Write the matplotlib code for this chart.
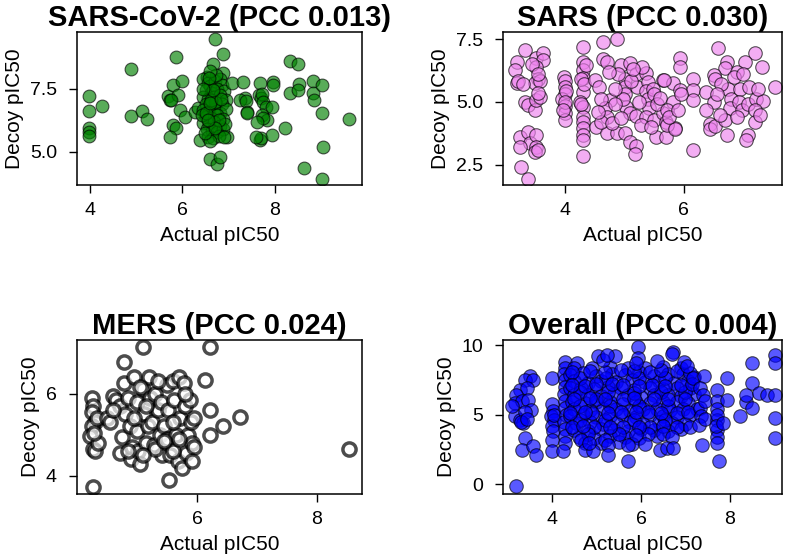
import matplotlib
matplotlib.use("Agg")
import matplotlib.pyplot as plt

plt.rcParams['font.family'] = ['Liberation Sans', 'DejaVu Sans']

# SARS-CoV-2 (actual, decoy) pairs
cov2_pts = [
    (3.99, 7.23), (3.99, 6.64), (3.99, 5.94), (3.99, 5.78), (3.99, 5.64), (4.25, 6.81),
    (4.88, 8.31), (4.88, 6.41), (5.13, 6.64), (5.23, 6.30),
    (5.69, 7.21), (5.74, 7.05), (5.85, 8.75), (5.80, 7.66), (5.90, 7.27), (5.76, 7.07),
    (5.95, 6.66), (5.80, 6.06), (5.85, 5.95), (5.73, 5.60), (6.00, 7.83), (6.05, 6.40),
    (6.27, 6.60), (6.34, 6.74), (6.38, 5.47),
    (6.70, 9.48), (6.88, 8.88), (6.65, 8.48), (6.88, 8.15), (6.52, 7.99), (6.59, 4.74),
    (6.74, 4.54), (6.80, 4.81), (6.97, 5.61),
    (6.45, 7.90), (6.55, 7.75), (6.60, 7.60), (6.70, 7.80), (6.80, 7.90), (6.85, 7.65),
    (6.50, 7.45), (6.62, 7.35), (6.75, 7.50), (6.90, 7.40), (6.45, 7.20), (6.55, 7.10),
    (6.68, 7.20), (6.80, 7.25), (6.95, 7.05), (6.50, 6.90), (6.60, 6.85), (6.72, 6.95),
    (6.85, 6.90), (6.45, 6.65), (6.58, 6.60), (6.70, 6.70), (6.82, 6.55), (6.93, 6.70),
    (6.50, 6.40), (6.62, 6.35), (6.75, 6.45), (6.88, 6.30), (6.45, 6.15), (6.57, 6.10),
    (6.68, 6.20), (6.80, 6.05), (6.52, 5.90), (6.63, 5.85), (6.75, 5.80), (6.87, 5.90),
    (6.55, 5.60), (6.65, 5.55), (6.78, 5.65), (6.60, 5.45), (6.72, 8.05), (6.60, 8.20),
    (6.42, 6.45), (6.48, 5.75), (6.92, 6.10), (6.70, 7.00), (6.58, 7.95),
    (6.62, 7.05), (6.50, 6.55), (6.78, 6.25), (6.70, 5.95), (6.60, 6.95), (6.83, 7.10),
    (6.55, 6.25), (6.90, 5.60), (6.65, 7.45), (6.45, 7.50),
    (7.06, 7.73), (7.31, 7.79), (7.36, 7.15), (7.24, 7.07), (7.37, 7.01), (7.39, 6.60),
    (7.39, 6.54), (7.68, 7.73), (7.65, 7.25), (7.70, 7.15), (7.72, 7.30), (7.75, 7.00),
    (7.80, 6.80), (7.72, 6.45), (7.82, 6.28), (7.75, 6.35), (7.68, 5.48), (7.70, 5.55),
    (7.93, 5.68), (7.93, 6.80), (7.96, 7.77), (7.95, 7.65), (8.22, 5.94), (8.32, 8.60),
    (8.50, 8.51), (8.32, 7.34), (8.52, 7.70), (8.50, 7.45), (8.63, 4.38), (8.83, 7.81),
    (8.83, 7.35), (8.85, 7.05), (9.01, 7.67), (9.01, 6.54), (9.03, 5.19), (9.01, 3.91),
    (9.59, 6.32), (7.58, 5.60), (7.62, 6.20),
]

sars_pts = [
    (3.19, 6.60), (3.16, 6.27), (3.19, 5.74), (3.22, 5.85), (3.33, 7.06), (3.52, 6.73),
    (3.63, 6.96), (3.63, 6.66), (3.52, 6.40), (3.55, 5.93), (3.50, 5.74), (3.58, 5.85),
    (3.33, 5.00), (3.38, 4.87), (3.50, 4.68), (3.52, 5.08), (3.58, 5.20), (3.55, 5.35),
    (3.45, 6.50), (3.24, 3.60), (3.38, 3.81), (3.41, 3.35), (3.52, 3.68), (3.52, 3.22),
    (3.24, 3.22), (3.50, 3.02), (3.27, 2.42), (3.38, 1.92), (3.55, 3.10), (3.30, 5.70),
    (3.55, 6.10),
    (3.98, 6.00), (4.00, 5.85), (4.00, 5.60), (4.00, 5.30), (3.95, 5.10), (4.00, 4.85),
    (4.00, 4.55), (4.00, 4.30), (4.02, 5.45), (4.00, 5.00), (3.97, 4.70),
    (4.30, 7.17), (4.30, 6.60), (4.30, 6.27), (4.30, 5.95), (4.30, 5.40), (4.25, 5.00),
    (4.30, 4.80), (4.30, 4.40), (4.30, 4.20), (4.30, 3.95), (4.30, 3.70), (4.30, 3.50),
    (4.30, 2.84), (4.27, 5.90), (4.27, 4.90), (4.35, 6.45), (4.33, 5.70),
    (4.64, 7.39), (4.87, 7.50), (4.64, 6.71), (4.70, 6.60), (4.50, 5.87), (4.58, 5.60),
    (4.76, 5.07), (4.68, 4.75), (4.70, 4.40), (4.53, 4.01), (4.70, 3.75), (4.88, 3.75),
    (5.01, 3.75), (4.95, 6.47), (5.10, 6.55), (5.01, 5.90), (5.01, 5.60), (5.01, 5.30),
    (5.03, 4.80), (4.98, 5.10), (5.10, 4.55), (5.20, 4.45), (5.22, 5.60), (5.20, 6.10),
    (5.37, 6.14), (5.40, 5.80), (5.37, 5.45), (5.40, 5.10), (5.42, 4.75), (5.37, 4.40),
    (5.50, 4.30), (5.65, 5.87), (5.48, 5.50), (5.50, 5.30), (5.82, 5.74), (5.65, 4.55),
    (5.70, 4.20), (5.85, 3.95), (5.53, 3.60), (5.70, 3.60), (5.10, 3.40), (5.20, 3.25),
    (5.18, 2.95), (4.60, 4.20), (4.80, 4.15), (4.85, 4.90), (4.85, 5.50), (4.90, 6.10),
    (5.12, 5.85), (5.25, 5.00), (5.28, 4.10), (5.55, 4.90), (5.60, 5.15), (5.30, 6.40),
    (4.75, 6.20), (4.60, 5.10), (4.95, 4.35), (5.15, 6.30), (4.55, 4.60), (5.45, 4.00),
    (5.93, 6.75), (5.94, 6.40), (5.66, 5.87), (5.94, 5.47), (6.16, 5.93), (6.16, 5.47),
    (6.16, 5.07), (5.82, 5.00), (5.71, 4.67), (5.71, 4.07), (5.85, 3.94), (6.16, 3.08),
    (5.95, 5.30), (5.75, 4.40), (5.90, 4.70),
    (6.58, 7.13), (7.20, 6.93), (7.31, 6.40), (6.72, 6.60), (6.70, 6.35), (7.03, 6.60),
    (6.89, 6.20), (6.50, 6.07), (6.52, 5.90), (6.38, 5.40), (6.50, 5.00), (6.38, 4.67),
    (6.44, 4.14), (6.44, 3.94), (6.52, 4.05), (6.75, 5.50), (6.80, 5.10), (6.78, 4.75),
    (6.69, 4.27), (6.94, 5.53), (6.92, 5.00), (6.97, 4.67), (7.08, 4.90), (7.22, 5.13),
    (7.33, 5.05), (7.19, 4.67), (7.19, 4.20), (7.08, 3.67), (7.05, 3.50), (6.72, 3.67),
    (7.53, 5.60), (6.85, 6.00), (7.00, 6.10), (7.10, 5.60), (6.62, 5.70), (6.60, 4.50),
    (6.90, 4.40), (7.25, 5.50), (6.55, 5.30), (7.28, 4.50),
]

mers_pts = [
    (5.10, 7.14), (6.22, 7.12), (4.78, 6.76), (6.14, 6.33), (6.21, 5.60), (6.44, 5.20),
    (6.72, 5.42), (6.21, 5.00), (8.53, 4.66), (4.27, 3.74), (5.54, 3.90),
    (4.25, 5.90), (4.27, 5.70), (4.25, 5.55), (4.30, 5.30), (4.25, 5.20), (4.22, 4.98),
    (4.27, 4.65), (4.30, 4.60), (4.35, 4.80), (4.33, 5.40), (4.28, 5.05),
    (4.50, 5.40), (4.55, 5.30), (4.60, 5.95), (4.65, 5.85), (4.72, 5.70), (4.78, 6.25),
    (4.80, 5.50), (4.75, 4.95), (4.72, 4.55), (4.85, 5.90), (4.88, 5.20), (4.90, 4.40),
    (4.92, 4.70), (4.95, 6.40), (5.00, 5.80), (5.00, 5.10), (5.02, 4.60), (5.05, 4.30),
    (5.10, 6.10), (5.12, 5.50), (5.15, 4.80), (5.18, 5.20), (5.20, 6.40), (5.22, 5.90),
    (5.25, 5.30), (5.28, 4.75), (5.30, 6.00), (5.35, 5.60), (5.38, 5.00), (5.40, 5.80),
    (5.42, 4.50), (5.45, 5.20), (5.50, 6.20), (5.50, 4.90), (5.52, 5.60), (5.55, 4.50),
    (5.60, 6.30), (5.62, 5.85), (5.65, 5.00), (5.68, 4.35), (5.70, 6.40), (5.72, 5.40),
    (5.75, 4.20), (5.78, 6.25), (5.80, 5.70), (5.82, 4.55), (5.85, 5.00), (5.88, 5.85),
    (5.90, 5.30), (5.92, 4.80), (5.95, 4.70), (5.95, 5.40), (5.92, 4.35), (5.80, 6.00),
    (5.60, 4.60), (5.30, 4.65), (5.15, 5.70), (4.95, 5.40), (4.60, 5.60), (5.05, 6.15),
    (5.35, 6.30), (5.60, 5.30), (5.10, 4.50), (4.85, 4.60), (5.45, 4.85), (5.70, 4.90),
]

overall_pts = [
    (3.20, -0.16), (3.50, 7.76), (3.39, 7.52), (3.57, 7.52), (3.28, 6.80), (3.43, 6.92),
    (3.20, 6.44), (3.17, 5.84), (3.32, 5.96), (3.47, 6.08), (3.54, 5.36), (3.17, 4.88),
    (3.28, 4.64), (3.35, 4.40), (3.39, 3.32), (3.32, 2.48), (3.57, 2.72), (3.64, 2.12),
    (3.10, 5.60), (3.40, 5.20), (3.30, 4.50), (3.45, 4.70),
    (3.99, 7.64), (4.00, 5.80), (4.02, 5.30), (3.98, 4.90), (4.05, 4.60), (4.00, 4.20),
    (4.03, 3.80), (4.00, 3.20), (3.99, 2.36), (4.05, 5.00),
    (4.29, 8.83), (4.30, 8.40), (4.28, 7.90), (4.30, 7.50), (4.30, 7.00), (4.28, 6.50),
    (4.30, 6.00), (4.30, 5.50), (4.32, 5.00), (4.28, 4.50), (4.30, 4.00), (4.30, 3.50),
    (4.30, 3.00), (4.25, 2.36), (4.56, 8.70),
    (4.50, 8.40), (4.90, 8.35), (5.30, 8.45), (5.70, 8.40), (6.10, 8.35), (6.50, 8.45), (6.90, 8.35),
    (4.40, 7.85), (4.70, 8.00), (5.00, 7.80), (5.35, 7.95), (5.65, 7.85), (5.95, 8.05),
    (6.30, 7.80), (6.60, 7.95), (6.95, 7.90), (7.20, 7.75),
    (4.50, 7.40), (4.80, 7.30), (5.10, 7.45), (5.45, 7.35), (5.80, 7.50), (6.10, 7.35),
    (6.40, 7.45), (6.75, 7.30), (7.05, 7.40),
    (4.40, 6.90), (4.65, 6.95), (4.95, 6.85), (5.25, 7.00), (5.55, 6.90), (5.85, 6.80),
    (6.20, 6.95), (6.50, 6.85), (6.80, 6.90), (7.10, 6.95),
    (4.50, 6.40), (4.80, 6.45), (5.10, 6.35), (5.40, 6.50), (5.70, 6.40), (6.00, 6.30),
    (6.30, 6.45), (6.60, 6.40), (6.90, 6.35), (7.20, 6.50),
    (4.45, 5.90), (4.75, 5.85), (5.00, 5.95), (5.30, 5.90), (5.60, 5.80), (5.90, 5.95),
    (6.20, 5.85), (6.50, 5.90), (6.80, 5.95), (7.05, 5.85),
    (4.50, 5.40), (4.85, 5.35), (5.15, 5.45), (5.45, 5.40), (5.75, 5.30), (6.05, 5.45),
    (6.35, 5.40), (6.65, 5.35), (6.95, 5.45), (7.25, 5.40),
    (4.40, 4.90), (4.70, 4.95), (5.00, 4.85), (5.30, 4.90), (5.60, 5.00), (5.90, 4.85),
    (6.20, 4.95), (6.50, 4.90), (6.80, 4.85), (7.10, 4.95),
    (4.55, 4.40), (4.85, 4.45), (5.15, 4.35), (5.45, 4.40), (5.75, 4.50), (6.05, 4.35),
    (6.40, 4.45), (6.70, 4.40), (7.00, 4.35),
    (4.50, 3.90), (4.80, 3.85), (5.10, 3.95), (5.40, 3.90), (5.70, 3.80), (6.00, 3.95),
    (6.30, 3.90), (6.60, 3.85), (6.90, 3.95),
    (4.60, 3.40), (4.95, 3.35), (5.30, 3.45), (5.65, 3.40), (5.95, 3.30), (6.35, 3.45),
    (4.75, 3.00), (5.10, 2.95), (5.50, 3.05), (5.80, 2.90),
    (4.62, 7.65), (5.22, 7.65), (5.95, 7.65), (6.55, 7.65), (4.62, 6.65), (5.25, 6.65),
    (5.85, 6.60), (6.45, 6.65), (7.00, 6.65), (4.62, 5.65), (5.30, 5.65), (5.95, 5.65),
    (6.60, 5.65), (4.62, 4.65), (5.20, 4.65), (5.85, 4.65), (6.55, 4.65), (4.95, 4.15),
    (5.60, 4.15), (6.20, 4.15), (6.80, 4.15), (5.00, 6.10), (5.60, 6.15), (6.30, 6.15),
    (4.90, 5.15), (5.55, 5.20), (6.15, 5.20), (6.80, 5.15), (5.35, 7.20), (6.25, 7.15),
    (4.80, 3.60), (5.50, 3.65), (6.15, 3.60),
    (4.45, 8.10), (4.85, 8.15), (5.20, 8.05), (5.55, 8.20), (5.85, 8.15), (6.20, 8.10),
    (6.45, 8.20), (6.80, 8.15), (7.10, 8.00),
    (4.45, 7.15), (4.75, 7.10), (5.00, 7.20), (5.60, 7.15), (5.95, 7.05), (6.55, 7.10),
    (6.90, 7.15), (7.15, 7.20),
    (4.50, 6.15), (4.85, 6.20), (5.20, 6.15), (5.85, 6.20), (6.60, 6.10), (7.00, 6.15),
    (4.40, 5.15), (4.75, 5.20), (5.25, 5.15), (5.90, 5.20), (6.45, 5.15), (7.05, 5.20),
    (4.45, 4.15), (4.70, 4.20), (5.30, 4.15), (5.95, 4.15), (6.50, 4.20), (7.10, 4.10),
    (4.65, 3.20), (5.20, 3.15), (5.90, 3.55), (6.50, 3.60), (6.70, 3.40),
    (5.04, 9.20), (5.42, 9.20), (5.15, 8.95), (5.94, 9.90), (5.94, 9.10), (5.90, 8.70),
    (5.23, 9.30), (6.73, 9.55), (6.70, 9.40), (6.96, 8.83), (7.03, 8.50), (6.35, 8.85),
    (5.27, 2.84), (5.27, 2.12), (5.72, 1.64), (4.74, 2.50), (4.93, 2.36), (4.84, 3.00),
    (5.72, 2.80), (6.43, 2.48), (6.58, 2.60), (6.73, 2.60), (6.10, 2.90),
    (7.18, 7.65), (7.41, 7.76), (7.33, 6.92), (7.33, 5.50), (7.40, 6.40), (7.35, 4.90),
    (7.30, 4.30), (7.45, 4.70), (7.37, 2.84), (7.45, 6.00),
    (7.71, 6.80), (7.71, 6.00), (7.71, 5.40), (7.71, 4.60), (7.71, 3.90), (7.71, 3.40),
    (7.71, 3.00), (7.75, 1.64), (7.71, 5.00), (7.68, 4.20),
    (7.93, 7.64), (7.93, 6.08), (7.85, 4.40), (8.23, 4.88), (8.35, 5.90), (8.35, 6.44),
    (8.50, 5.50), (8.50, 7.30), (8.50, 8.70), (8.65, 6.56), (8.83, 6.44), (9.02, 6.44),
    (9.02, 9.32), (9.02, 8.70), (9.02, 4.80), (9.02, 3.32),
]

titles = ['SARS-CoV-2 (PCC 0.013)', 'SARS (PCC 0.030)',
          'MERS (PCC 0.024)', 'Overall (PCC 0.004)']

W, H = 791, 554
fig = plt.figure(figsize=(W / 100, H / 100), dpi=100)


def make_ax(left, top, right, bottom):
    return fig.add_axes([left / W, 1 - bottom / H, (right - left) / W, (bottom - top) / H])


ax1 = make_ax(77, 32, 362, 185)
ax2 = make_ax(503, 32, 782, 185)
ax3 = make_ax(77, 340, 362, 494)
ax4 = make_ax(503, 340, 782, 494)

x, y = zip(*cov2_pts)
ax1.scatter(x, y, s=85, color='green', alpha=0.65, edgecolors='black', linewidths=0.8)
x, y = zip(*sars_pts)
ax2.scatter(x, y, s=95, color='violet', alpha=0.65, edgecolors='black', linewidths=0.8)
x, y = zip(*mers_pts)
ax3.scatter(x, y, s=90, color='white', alpha=0.7, edgecolors='black', linewidths=2.5)
x, y = zip(*overall_pts)
ax4.scatter(x, y, s=95, color='blue', alpha=0.65, edgecolors='black', linewidths=0.8)

ax1.set_xlim(3.72, 9.88)
ax1.set_ylim(3.69, 9.76)
ax1.set_xticks([4, 6, 8])
ax1.set_yticks([5.0, 7.5])
ax2.set_xlim(2.96, 7.65)
ax2.set_ylim(1.7, 7.78)
ax2.set_xticks([4, 6])
ax2.set_yticks([2.5, 5.0, 7.5])
ax3.set_xlim(4.0, 8.75)
ax3.set_ylim(3.56, 7.3)
ax3.set_xticks([6, 8])
ax3.set_yticks([4, 6])
ax4.set_xlim(2.9, 9.17)
ax4.set_ylim(-0.7, 10.38)
ax4.set_xticks([4, 6, 8])
ax4.set_yticks([0, 5, 10])

for ax, t in zip([ax1, ax2, ax3, ax4], titles):
    ax.set_title(t, fontsize=21, fontweight='bold', pad=4)
    ax.set_xlabel('Actual pIC50', fontsize=15, labelpad=5)
    ax.set_ylabel('Decoy pIC50', fontsize=15, labelpad=4)
    ax.tick_params(labelsize=14, length=5.5, width=1)
    ax.tick_params(axis='x', pad=7)
    ax.tick_params(axis='y', pad=9)
    for sp in ax.spines.values():
        sp.set_linewidth(1.1)

fig.savefig('out.png', dpi=100)
